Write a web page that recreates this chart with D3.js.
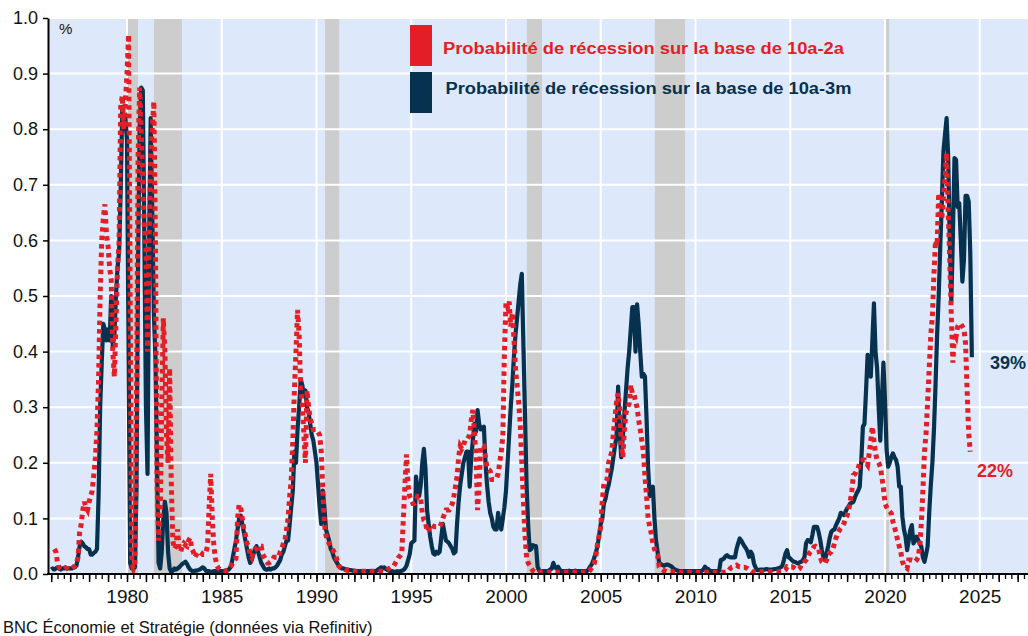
<!DOCTYPE html>
<html lang="fr">
<head>
<meta charset="utf-8">
<script src="https://d3js.org/d3.v7.min.js"></script>
<style>
  html, body { margin: 0; padding: 0; background: #fff; }
  svg { display: block; font-family: "Liberation Sans", Arial, sans-serif; }
</style>
</head>
<body>
<svg id="chart" width="1028" height="636"></svg>
<script>
  // monthly values, first value = January of startYear
  const startYear = 1976;

  // 10a-3m spread based probability (navy line)
  const prob10y3m = [
    0.008,0.010,0.008,0.010,0.012,0.010,0.008,0.010,0.010,0.012,0.010,0.010, // 1976
    0.010,0.010,0.012,0.012,0.015,0.030,0.050,0.058,0.055,0.050,0.048,0.045, // 1977
    0.045,0.035,0.035,0.038,0.040,0.045,0.140,0.300,0.380,0.450,0.440,0.420, // 1978
    0.440,0.420,0.500,0.410,0.430,0.500,0.550,0.580,0.690,0.840,0.800,0.820, // 1979
    0.780,0.400,0.020,0.010,0.010,0.012,0.150,0.550,0.800,0.875,0.870,0.600, // 1980
    0.300,0.180,0.600,0.820,0.650,0.470,0.390,0.200,0.020,0.010,0.040,0.100, // 1981
    0.130,0.110,0.040,0.010,0.004,0.006,0.010,0.008,0.010,0.012,0.015,0.018, // 1982
    0.020,0.022,0.018,0.012,0.008,0.006,0.005,0.006,0.006,0.007,0.008,0.010, // 1983
    0.012,0.010,0.006,0.005,0.005,0.004,0.004,0.005,0.005,0.006,0.005,0.005, // 1984
    0.005,0.005,0.006,0.006,0.007,0.010,0.015,0.030,0.045,0.060,0.080,0.100, // 1985
    0.105,0.090,0.075,0.060,0.045,0.030,0.020,0.025,0.035,0.045,0.050,0.040, // 1986
    0.030,0.020,0.015,0.010,0.008,0.008,0.010,0.008,0.010,0.010,0.012,0.015, // 1987
    0.020,0.025,0.035,0.040,0.050,0.060,0.060,0.090,0.120,0.150,0.220,0.200, // 1988
    0.260,0.300,0.350,0.340,0.320,0.330,0.300,0.290,0.270,0.250,0.240,0.220, // 1989
    0.200,0.160,0.120,0.090,0.150,0.120,0.080,0.070,0.060,0.045,0.040,0.030, // 1990
    0.025,0.020,0.015,0.012,0.010,0.010,0.009,0.008,0.008,0.007,0.007,0.006, // 1991
    0.006,0.005,0.005,0.005,0.005,0.005,0.005,0.005,0.005,0.005,0.005,0.005, // 1992
    0.005,0.005,0.006,0.008,0.010,0.012,0.010,0.012,0.009,0.007,0.006,0.005, // 1993
    0.005,0.004,0.004,0.005,0.004,0.005,0.006,0.007,0.010,0.015,0.025,0.035, // 1994
    0.055,0.058,0.060,0.175,0.150,0.140,0.160,0.200,0.225,0.190,0.115,0.090, // 1995
    0.067,0.050,0.037,0.035,0.040,0.037,0.040,0.065,0.090,0.075,0.060,0.058, // 1996
    0.055,0.050,0.045,0.037,0.040,0.090,0.130,0.160,0.180,0.200,0.210,0.220, // 1997
    0.220,0.157,0.210,0.240,0.270,0.256,0.295,0.270,0.260,0.262,0.265,0.200, // 1998
    0.160,0.130,0.110,0.100,0.085,0.080,0.080,0.110,0.090,0.080,0.100,0.120, // 1999
    0.150,0.200,0.250,0.300,0.340,0.390,0.430,0.460,0.490,0.520,0.540,0.415, // 2000
    0.290,0.163,0.090,0.043,0.045,0.052,0.050,0.050,0.013,0.006,0.004,0.005, // 2001
    0.005,0.005,0.005,0.006,0.008,0.010,0.020,0.012,0.010,0.013,0.008,0.005, // 2002
    0.005,0.005,0.005,0.005,0.006,0.005,0.005,0.005,0.006,0.005,0.005,0.005, // 2003
    0.005,0.005,0.005,0.005,0.007,0.012,0.016,0.022,0.030,0.040,0.050,0.070, // 2004
    0.090,0.100,0.127,0.135,0.150,0.160,0.175,0.190,0.210,0.230,0.247,0.337, // 2005
    0.253,0.210,0.247,0.290,0.330,0.370,0.400,0.440,0.480,0.480,0.400,0.485, // 2006
    0.450,0.400,0.355,0.360,0.355,0.280,0.190,0.140,0.150,0.157,0.100,0.060, // 2007
    0.040,0.020,0.018,0.016,0.015,0.016,0.017,0.016,0.015,0.013,0.010,0.008, // 2008
    0.007,0.006,0.005,0.005,0.005,0.005,0.005,0.005,0.005,0.005,0.005,0.005, // 2009
    0.005,0.005,0.005,0.005,0.006,0.008,0.013,0.010,0.009,0.006,0.005,0.005, // 2010
    0.005,0.005,0.005,0.006,0.025,0.026,0.028,0.032,0.034,0.031,0.030,0.030, // 2011
    0.030,0.030,0.045,0.055,0.064,0.060,0.055,0.050,0.046,0.040,0.031,0.040, // 2012
    0.035,0.019,0.012,0.007,0.007,0.008,0.008,0.008,0.008,0.009,0.008,0.008, // 2013
    0.008,0.008,0.009,0.009,0.010,0.011,0.012,0.015,0.025,0.037,0.043,0.030, // 2014
    0.028,0.025,0.022,0.022,0.020,0.019,0.021,0.022,0.025,0.030,0.055,0.061, // 2015
    0.060,0.057,0.070,0.085,0.085,0.085,0.075,0.061,0.043,0.030,0.025,0.037, // 2016
    0.050,0.065,0.076,0.079,0.080,0.088,0.094,0.100,0.110,0.108,0.106,0.112, // 2017
    0.118,0.122,0.127,0.128,0.130,0.138,0.145,0.150,0.157,0.205,0.265,0.270, // 2018
    0.330,0.394,0.360,0.355,0.420,0.487,0.400,0.370,0.300,0.240,0.313,0.380, // 2019
    0.313,0.223,0.193,0.200,0.210,0.217,0.210,0.205,0.193,0.157,0.157,0.103, // 2020
    0.080,0.067,0.043,0.060,0.079,0.088,0.055,0.060,0.067,0.061,0.055,0.049, // 2021
    0.030,0.022,0.035,0.050,0.110,0.160,0.200,0.260,0.340,0.430,0.500,0.590, // 2022
    0.670,0.760,0.790,0.820,0.750,0.600,0.490,0.610,0.748,0.745,0.660,0.667, // 2023
    0.600,0.526,0.565,0.680,0.680,0.670,0.577,0.390                          // 2024
  ];

  // 10a-2a spread based probability (red dotted line)
  const prob10y2y = [
    null,null,0.045,0.040,0.020,0.012,0.010,0.008,0.008,0.010,0.010,0.008,   // 1976
    0.008,0.010,0.012,0.015,0.020,0.030,0.075,0.090,0.115,0.130,0.120,0.115, // 1977
    0.130,0.140,0.150,0.180,0.210,0.260,0.350,0.500,0.600,0.640,0.665,0.610, // 1978
    0.590,0.550,0.530,0.400,0.355,0.450,0.550,0.600,0.840,0.860,0.800,0.850, // 1979
    0.900,0.970,0.500,0.020,0.010,0.020,0.300,0.750,0.875,0.800,0.700,0.620, // 1980
    0.590,0.400,0.600,0.750,0.800,0.850,0.600,0.170,0.060,0.100,0.300,0.460, // 1981
    0.400,0.250,0.200,0.370,0.170,0.060,0.045,0.050,0.080,0.045,0.040,0.050, // 1982
    0.055,0.052,0.050,0.060,0.065,0.045,0.040,0.030,0.035,0.040,0.040,0.038, // 1983
    0.035,0.035,0.040,0.050,0.120,0.180,0.100,0.050,0.028,0.015,0.010,0.008, // 1984
    0.006,0.005,0.005,0.006,0.008,0.010,0.015,0.020,0.025,0.028,0.100,0.125, // 1985
    0.120,0.100,0.080,0.070,0.055,0.050,0.035,0.030,0.040,0.045,0.045,0.050, // 1986
    0.050,0.050,0.035,0.030,0.025,0.020,0.020,0.022,0.025,0.030,0.030,0.030, // 1987
    0.030,0.040,0.045,0.055,0.060,0.080,0.100,0.140,0.170,0.240,0.330,0.400, // 1988
    0.475,0.430,0.330,0.310,0.250,0.200,0.330,0.300,0.280,0.270,0.260,0.260, // 1989
    0.260,0.255,0.250,0.220,0.150,0.090,0.070,0.060,0.055,0.050,0.045,0.040, // 1990
    0.035,0.025,0.015,0.012,0.010,0.010,0.008,0.007,0.006,0.006,0.005,0.005, // 1991
    0.005,0.005,0.005,0.005,0.005,0.005,0.005,0.005,0.005,0.005,0.005,0.005, // 1992
    0.005,0.005,0.005,0.005,0.005,0.005,0.005,0.005,0.006,0.008,0.010,0.012, // 1993
    0.013,0.015,0.020,0.025,0.030,0.033,0.037,0.100,0.160,0.215,0.160,0.140, // 1994
    0.133,0.127,0.127,0.130,0.140,0.140,0.135,0.110,0.097,0.094,0.076,0.080, // 1995
    0.088,0.088,0.086,0.085,0.085,0.085,0.085,0.090,0.100,0.108,0.115,0.115, // 1996
    0.115,0.120,0.127,0.140,0.157,0.175,0.210,0.230,0.225,0.230,0.240,0.240, // 1997
    0.245,0.250,0.277,0.295,0.256,0.210,0.115,0.160,0.230,0.230,0.230,0.210, // 1998
    0.190,0.188,0.185,0.170,0.170,0.170,0.172,0.180,0.200,0.220,0.247,0.400, // 1999
    0.490,0.480,0.490,0.445,0.470,0.425,0.370,0.340,0.310,0.270,0.200,0.133, // 2000
    0.073,0.030,0.020,0.016,0.010,0.006,0.004,0.003,0.003,0.003,0.003,0.003, // 2001
    0.003,0.003,0.003,0.003,0.003,0.003,0.003,0.003,0.003,0.003,0.003,0.003, // 2002
    0.003,0.003,0.003,0.003,0.003,0.003,0.003,0.003,0.003,0.003,0.003,0.003, // 2003
    0.003,0.003,0.003,0.003,0.004,0.006,0.010,0.013,0.020,0.035,0.055,0.070, // 2004
    0.085,0.133,0.163,0.165,0.170,0.200,0.210,0.220,0.253,0.280,0.310,0.325, // 2005
    0.295,0.235,0.210,0.260,0.290,0.300,0.307,0.340,0.325,0.325,0.310,0.300, // 2006
    0.277,0.260,0.240,0.220,0.175,0.140,0.100,0.085,0.073,0.055,0.045,0.037, // 2007
    0.034,0.013,0.010,0.008,0.006,0.005,0.004,0.004,0.004,0.004,0.004,0.004, // 2008
    0.004,0.004,0.003,0.003,0.003,0.003,0.003,0.003,0.003,0.003,0.003,0.003, // 2009
    0.003,0.003,0.003,0.003,0.003,0.003,0.003,0.003,0.003,0.003,0.003,0.003, // 2010
    0.003,0.003,0.003,0.003,0.003,0.003,0.003,0.003,0.004,0.006,0.010,0.012, // 2011
    0.013,0.015,0.016,0.014,0.013,0.013,0.012,0.012,0.011,0.010,0.008,0.006, // 2012
    0.004,0.004,0.004,0.004,0.004,0.004,0.004,0.004,0.004,0.004,0.004,0.004, // 2013
    0.004,0.004,0.004,0.004,0.004,0.004,0.005,0.005,0.006,0.008,0.013,0.012, // 2014
    0.013,0.013,0.012,0.010,0.008,0.008,0.010,0.016,0.018,0.022,0.025,0.030, // 2015
    0.037,0.040,0.045,0.049,0.050,0.048,0.045,0.030,0.022,0.020,0.019,0.025, // 2016
    0.034,0.038,0.040,0.045,0.055,0.065,0.073,0.078,0.082,0.085,0.091,0.100, // 2017
    0.105,0.115,0.130,0.150,0.178,0.180,0.187,0.190,0.200,0.200,0.205,0.205, // 2018
    0.200,0.196,0.217,0.240,0.265,0.240,0.217,0.205,0.200,0.193,0.175,0.154, // 2019
    0.127,0.120,0.115,0.112,0.109,0.094,0.085,0.073,0.061,0.050,0.040,0.022, // 2020
    0.016,0.012,0.010,0.025,0.025,0.025,0.024,0.022,0.025,0.030,0.049,0.091, // 2021
    0.150,0.220,0.253,0.310,0.370,0.430,0.463,0.540,0.600,0.590,0.685,0.640, // 2022
    0.640,0.680,0.710,0.757,0.655,0.565,0.463,0.380,0.433,0.427,0.445,0.450, // 2023
    0.450,0.445,0.440,0.415,0.330,0.253,0.220                                // 2024
  ];

  // NBER recessions (decimal years)
  const recessions = [
    [1980.05, 1980.58], [1981.42, 1982.9], [1990.45, 1991.2],
    [2001.1, 2001.9], [2007.85, 2009.45], [2019.97, 2020.22]
  ];

  const yTicks = [0, 0.1, 0.2, 0.3, 0.4, 0.5, 0.6, 0.7, 0.8, 0.9, 1.0];
  const xLabelYears = [1980, 1985, 1990, 1995, 2000, 2005, 2010, 2015, 2020, 2025];
  const seriesNames = [
    "Probabilité de récession sur la base de 10a-2a",
    "Probabilité de récession sur la base de 10a-3m"
  ];
  const lastLabels = ["22%", "39%"];

  const red = "#e31e26";
  const navy = "#06314f";

  const plot = { left: 48, right: 1028, top: 18, bottom: 574 };

  const svg = d3.select("#chart");

  const x = d3.scaleLinear().domain([1980, 2025]).range([127, 979.75]);
  const y = d3.scaleLinear().domain([0, 1]).range([plot.bottom, plot.top]);

  const toPoints = arr => arr.map((v, i) => ({ t: startYear + i / 12, v: v }));
  const navyPts = toPoints(prob10y3m);
  const redPts = toPoints(prob10y2y);

  svg.append("defs").append("clipPath").attr("id", "clip")
    .append("rect")
    .attr("x", plot.left).attr("y", plot.top - 5)
    .attr("width", plot.right - plot.left).attr("height", plot.bottom - plot.top + 5);

  // background
  svg.append("rect")
    .attr("x", plot.left).attr("y", plot.top)
    .attr("width", plot.right - plot.left).attr("height", plot.bottom - plot.top)
    .attr("fill", "#dde9fb");

  // recession shading
  svg.append("g").selectAll("rect")
    .data(recessions)
    .enter().append("rect")
    .attr("x", d => x(d[0]))
    .attr("width", d => x(d[1]) - x(d[0]))
    .attr("y", plot.top)
    .attr("height", plot.bottom - plot.top)
    .attr("fill", "#cdcdcd");

  // grid
  const grid = svg.append("g").attr("stroke", "#fff").attr("stroke-width", 2);
  grid.selectAll(".hg")
    .data(yTicks.filter(d => d > 0))
    .enter().append("line")
    .attr("x1", plot.left).attr("x2", plot.right)
    .attr("y1", d => y(d)).attr("y2", d => y(d));
  grid.selectAll(".vg")
    .data(xLabelYears)
    .enter().append("line")
    .attr("x1", d => x(d)).attr("x2", d => x(d))
    .attr("y1", plot.top).attr("y2", plot.bottom);

  // lines
  const line = d3.line()
    .defined(d => d.v !== null)
    .x(d => x(d.t))
    .y(d => y(d.v));

  const lines = svg.append("g").attr("clip-path", "url(#clip)");
  lines.append("path")
    .datum(navyPts)
    .attr("d", line)
    .attr("fill", "none")
    .attr("stroke", navy)
    .attr("stroke-width", 4.2)
    .attr("stroke-linejoin", "round");
  lines.append("path")
    .datum(redPts)
    .attr("d", line)
    .attr("fill", "none")
    .attr("stroke", red)
    .attr("stroke-width", 5)
    .attr("stroke-dasharray", "4.5,4");

  // y axis
  const yAxis = svg.append("g")
    .attr("transform", `translate(${plot.left},0)`)
    .call(d3.axisLeft(y).tickValues(yTicks).tickFormat(d3.format(".1f"))
      .tickSize(5).tickSizeOuter(0).tickPadding(5));
  yAxis.select(".domain").attr("stroke", "#000").attr("stroke-width", 2);
  yAxis.selectAll(".tick line").attr("stroke", "#000").attr("stroke-width", 1.5);
  yAxis.selectAll(".tick text")
    .attr("font-size", 18).attr("fill", "#111")
    .attr("font-family", "Liberation Sans, Arial, sans-serif");

  // x axis: minor ticks every 4 months, yearly ticks, labels every 5 years
  const minorTicks = d3.range(1976, 2028, 1 / 3).filter(t => x(t) >= plot.left && x(t) <= plot.right);
  const yearTicks = d3.range(1976, 2028).filter(t => x(t) >= plot.left && x(t) <= plot.right);

  const xMinor = svg.append("g")
    .attr("transform", `translate(0,${plot.bottom})`)
    .call(d3.axisBottom(x).tickValues(minorTicks).tickFormat("").tickSize(5).tickSizeOuter(0));
  xMinor.select(".domain").remove();
  xMinor.selectAll(".tick line").attr("stroke", "#000").attr("stroke-width", 1.3);

  const xMajor = svg.append("g")
    .attr("transform", `translate(0,${plot.bottom})`)
    .call(d3.axisBottom(x).tickValues(yearTicks)
      .tickFormat(d => xLabelYears.includes(d) ? String(d) : "")
      .tickSize(8).tickSizeOuter(0).tickPadding(8));
  xMajor.select(".domain").remove();
  xMajor.selectAll(".tick line").attr("stroke", "#000").attr("stroke-width", 1.5);
  xMajor.selectAll(".tick text")
    .attr("font-size", 19).attr("fill", "#111")
    .attr("font-family", "Liberation Sans, Arial, sans-serif");

  svg.append("line")
    .attr("x1", plot.left - 1).attr("x2", plot.right)
    .attr("y1", plot.bottom).attr("y2", plot.bottom)
    .attr("stroke", "#000").attr("stroke-width", 2);

  // unit
  svg.append("text")
    .attr("x", 59).attr("y", 34)
    .attr("font-size", 15).attr("fill", "#111")
    .text("%");

  // legend
  const legend = svg.append("g");
  const legendColors = [red, navy];
  const legendTextX = [443, 445.5];
  const legendTextLen = [401, 406];
  seriesNames.forEach((name, i) => {
    legend.append("rect")
      .attr("x", 410).attr("y", 25 + i * 47)
      .attr("width", 22).attr("height", 41)
      .attr("fill", legendColors[i]);
    legend.append("text")
      .attr("x", legendTextX[i]).attr("y", 54 + i * 40)
      .attr("font-size", 16).attr("font-weight", "bold")
      .attr("fill", legendColors[i])
      .attr("textLength", legendTextLen[i])
      .attr("lengthAdjust", "spacingAndGlyphs")
      .text(name);
  });

  // last value labels
  const lastRed = prob10y2y[prob10y2y.length - 1];
  const lastNavy = prob10y3m[prob10y3m.length - 1];
  svg.append("text")
    .attr("x", 990).attr("y", y(lastNavy) + 12)
    .attr("font-size", 18).attr("font-weight", "bold").attr("fill", navy)
    .text(lastLabels[1]);
  svg.append("text")
    .attr("x", 977).attr("y", y(lastRed) + 25)
    .attr("font-size", 18).attr("font-weight", "bold").attr("fill", red)
    .text(lastLabels[0]);

  // source
  svg.append("text")
    .attr("x", 3).attr("y", 633)
    .attr("font-size", 16.5).attr("fill", "#111")
    .text("BNC Économie et Stratégie (données via Refinitiv)");
</script>
</body>
</html>
